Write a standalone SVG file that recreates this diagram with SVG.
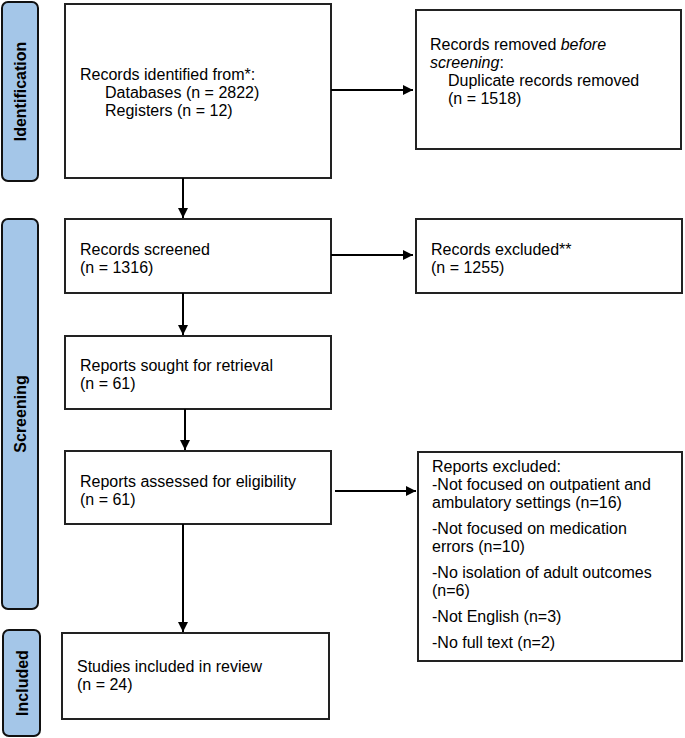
<svg xmlns="http://www.w3.org/2000/svg" width="685" height="738" viewBox="0 0 685 738">
<defs>
<marker id="ah" viewBox="0 0 10 10" refX="10" refY="5" markerWidth="10" markerHeight="10" markerUnits="userSpaceOnUse" orient="auto">
<path d="M0,0 L10,5 L0,10 Z" fill="#000"/>
</marker>
<style>
.box{fill:#fff;stroke:#222;stroke-width:2}
.bar{fill:#a4c6e8;stroke:#111;stroke-width:2}
.t{font-family:"Liberation Sans",Arial,sans-serif;font-size:16px;fill:#000}
.bt{font-family:"Liberation Sans",Arial,sans-serif;font-size:16px;font-weight:bold;fill:#000}
.c{fill:none;stroke:#000;stroke-width:2}
</style>
</defs>
<rect width="685" height="738" fill="#fff"/>
<g id="bar-identification">
<rect class="bar" x="2" y="2" width="36" height="179" rx="6"/>
<text class="bt" transform="translate(26,91.5) rotate(-90)" text-anchor="middle">Identification</text>
</g>
<g id="bar-screening">
<rect class="bar" x="2" y="219" width="36" height="390" rx="6"/>
<text class="bt" transform="translate(26,414) rotate(-90)" text-anchor="middle">Screening</text>
</g>
<g id="bar-included">
<rect class="bar" x="3" y="630" width="37" height="106" rx="6"/>
<text class="bt" transform="translate(27.5,683) rotate(-90)" text-anchor="middle">Included</text>
</g>
<g id="records-identified">
<rect class="box" x="65" y="4" width="266" height="174"/>
<text class="t" x="80" y="80">Records identified from*:</text>
<text class="t" x="105" y="98">Databases (n = 2822)</text>
<text class="t" x="105" y="116">Registers (n = 12)</text>
</g>
<g id="records-removed">
<rect class="box" x="416" y="10" width="265" height="139"/>
<text class="t" x="430" y="50">Records removed <tspan font-style="italic">before</tspan></text>
<text class="t" x="430" y="68"><tspan font-style="italic">screening</tspan>:</text>
<text class="t" x="448" y="86">Duplicate records removed</text>
<text class="t" x="448" y="104">(n = 1518)</text>
</g>
<g id="records-screened">
<rect class="box" x="65" y="219" width="266" height="74"/>
<text class="t" x="80" y="255">Records screened</text>
<text class="t" x="80" y="273">(n = 1316)</text>
</g>
<g id="records-excluded">
<rect class="box" x="416" y="219" width="266" height="74"/>
<text class="t" x="431" y="255">Records excluded**</text>
<text class="t" x="431" y="273">(n = 1255)</text>
</g>
<g id="reports-sought">
<rect class="box" x="65" y="336" width="266" height="73"/>
<text class="t" x="80" y="371">Reports sought for retrieval</text>
<text class="t" x="80" y="389">(n = 61)</text>
</g>
<g id="reports-assessed">
<rect class="box" x="65" y="451" width="266" height="73"/>
<text class="t" x="80" y="487">Reports assessed for eligibility</text>
<text class="t" x="80" y="505">(n = 61)</text>
</g>
<g id="reports-excluded">
<rect class="box" x="418" y="452" width="264" height="209"/>
<text class="t" x="432" y="472">Reports excluded:</text>
<text class="t" x="432" y="490">-Not focused on outpatient and</text>
<text class="t" x="432" y="508">ambulatory settings (n=16)</text>
<text class="t" x="432" y="534">-Not focused on medication</text>
<text class="t" x="432" y="552">errors (n=10)</text>
<text class="t" x="432" y="578">-No isolation of adult outcomes</text>
<text class="t" x="432" y="596">(n=6)</text>
<text class="t" x="432" y="622">-Not English (n=3)</text>
<text class="t" x="432" y="648">-No full text (n=2)</text>
</g>
<g id="studies-included">
<rect class="box" x="62" y="633" width="267" height="86"/>
<text class="t" x="77" y="672">Studies included in review</text>
<text class="t" x="77" y="690">(n = 24)</text>
</g>
<g id="connectors">
<line class="c" x1="331" y1="90" x2="413" y2="90" marker-end="url(#ah)"/>
<line class="c" x1="183" y1="178" x2="183" y2="218" marker-end="url(#ah)"/>
<line class="c" x1="331" y1="255" x2="413" y2="255" marker-end="url(#ah)"/>
<line class="c" x1="183" y1="293" x2="183" y2="335" marker-end="url(#ah)"/>
<line class="c" x1="185" y1="409" x2="185" y2="450" marker-end="url(#ah)"/>
<line class="c" x1="335" y1="491" x2="416" y2="491" marker-end="url(#ah)"/>
<line class="c" x1="183" y1="524" x2="183" y2="632" marker-end="url(#ah)"/>
</g>
</svg>
